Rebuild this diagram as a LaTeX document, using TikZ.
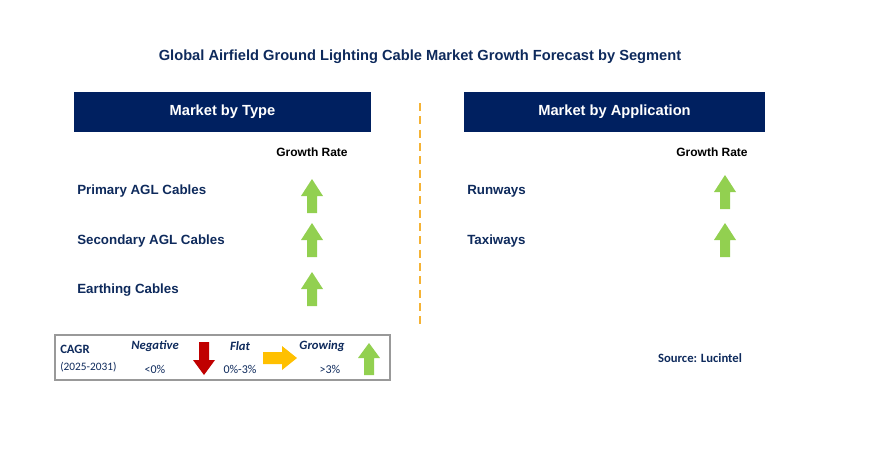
\documentclass[tikz,border=0pt]{standalone}
\usepackage{fontspec}
\setmainfont{Liberation Sans}
\newfontfamily\calfont{Carlito}
\definecolor{navy}{HTML}{0E2A5C}
\definecolor{hdr}{HTML}{002060}
\definecolor{grn}{HTML}{92D050}
\definecolor{redd}{HTML}{C00000}
\definecolor{org}{HTML}{FFC000}
\definecolor{dashc}{HTML}{F5B335}
\begin{document}
\begin{tikzpicture}[x=0.75pt,y=-0.75pt,
  hdrbox/.style={fill=hdr,text=white,font=\bfseries\fontsize{11}{13}\selectfont,minimum width=297*0.75pt,minimum height=40*0.75pt,inner sep=0},
  lbl/.style={text=navy,font=\bfseries\fontsize{10}{12}\selectfont,anchor=west,inner sep=0},
  gr/.style={text=black,font=\bfseries\fontsize{9}{11}\selectfont,inner sep=0}]
\useasboundingbox (0,0) rectangle (872,461);
\node[text=navy,font=\bfseries\fontsize{11}{13}\selectfont] (title) at (420,57) {Global Airfield Ground Lighting Cable Market Growth Forecast by Segment};
\node[hdrbox] (h1) at (222.5,112) {Market by Type};
\node[hdrbox,minimum width=301*0.75pt] (h2) at (614.5,112) {Market by Application};
\coordinate (d1) at (420,103); \coordinate (d2) at (420,325);
\draw[dashc,line width=1.5pt,dash pattern=on 6pt off 4pt] (d1) -- (d2);
\node[gr] (g1) at (312,152) {Growth Rate};
\node[gr] (g2) at (712,152) {Growth Rate};
\node[lbl] (l1) at (77,191) {Primary AGL Cables};
\node[lbl] (l2) at (77,241) {Secondary AGL Cables};
\node[lbl] (l3) at (77,290) {Earthing Cables};
\node[lbl] (r1) at (467,191) {Runways};
\node[lbl] (r2) at (467,241) {Taxiways};
\foreach \x/\y in {312/196,312/240,312/289,725/192,725/240}{
  \fill[grn] (\x-5,\y+17) -- (\x+5,\y+17) -- (\x+5,\y) -- (\x+11,\y) -- (\x,\y-17) -- (\x-11,\y) -- (\x-5,\y) -- cycle;}
% legend
\draw[gray!80,line width=0.8pt,fill=white] (55,335) rectangle (390,380);
\node[anchor=west,text=navy,font=\calfont\bfseries\fontsize{9.5}{11}\selectfont,inner sep=0] (c1) at (60,349) {CAGR};
\node[anchor=west,text=navy,font=\calfont\fontsize{8.5}{10}\selectfont,inner sep=0] (c2) at (60,367) {(2025-2031)};
\node[text=navy,font=\calfont\bfseries\itshape\fontsize{9.5}{11}\selectfont] (n1) at (155,346) {Negative};
\node[text=navy,font=\calfont\fontsize{9}{11}\selectfont] (n2) at (155,369) {<0\%};
\node[text=navy,font=\calfont\bfseries\itshape\fontsize{9.5}{11}\selectfont] (f1) at (240,346) {Flat};
\node[text=navy,font=\calfont\fontsize{9}{11}\selectfont] (f2) at (240,369) {0\%-3\%};
\node[text=navy,font=\calfont\bfseries\itshape\fontsize{9.5}{11}\selectfont] (w1) at (322,346) {Growing};
\node[text=navy,font=\calfont\fontsize{9}{11}\selectfont] (w2) at (330,369) {>3\%};
\fill[redd] (199,342) -- (209,342) -- (209,360) -- (215,360) -- (204,375) -- (193,360) -- (199,360) -- cycle;
\fill[org] (263,352) -- (282,352) -- (282,346) -- (297,358) -- (282,370) -- (282,364) -- (263,364) -- cycle;
\fill[grn] (364,375) -- (374,375) -- (374,358) -- (380,358) -- (369,343) -- (358,358) -- (364,358) -- cycle;
\node[text=navy,font=\calfont\bfseries\fontsize{9.5}{11}\selectfont] (src) at (700,358) {Source: Lucintel};
\end{tikzpicture}
\end{document}
